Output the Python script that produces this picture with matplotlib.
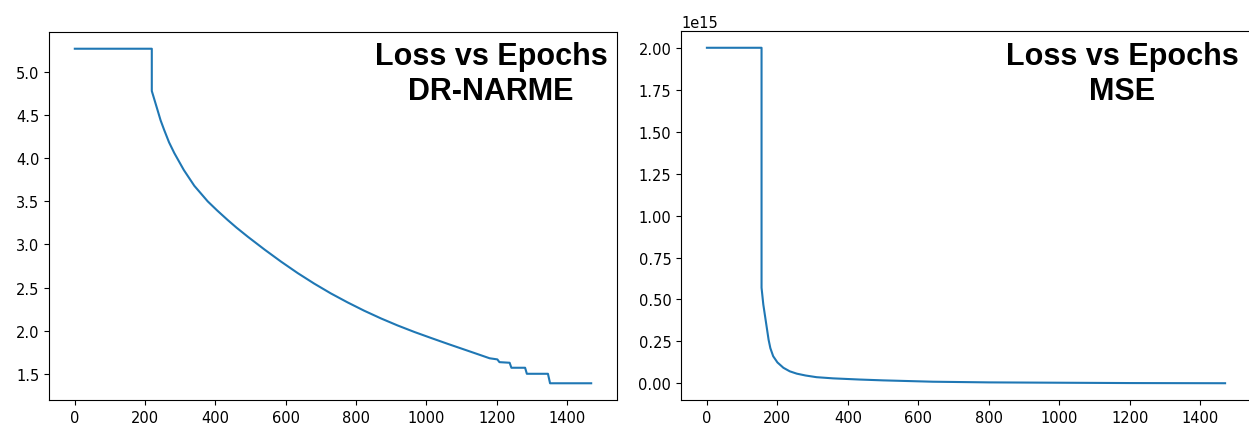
import matplotlib.pyplot as plt

# DR-NARME loss curve
epochs_dr = [0, 219, 219, 235, 244, 254, 268, 283, 310, 340, 378, 405, 435, 460,
             492, 540, 587, 634, 681, 728, 776, 823, 871, 918, 966, 1013, 1061,
             1106, 1151, 1180, 1202, 1208, 1237, 1242, 1281, 1286, 1346, 1352,
             1469]
loss_dr = [5.27, 5.27, 4.78, 4.563, 4.44, 4.33, 4.185, 4.06, 3.864, 3.68, 3.50,
           3.394, 3.283, 3.195, 3.09, 2.94, 2.80, 2.668, 2.546, 2.433, 2.328,
           2.232, 2.142, 2.061, 1.985, 1.916, 1.847, 1.784, 1.721, 1.68, 1.667,
           1.635, 1.628, 1.57, 1.57, 1.50, 1.50, 1.39, 1.39]

# MSE loss curve
epochs_mse = [0, 155, 155, 160, 165, 170, 175, 180, 188, 200, 217, 235, 255, 280,
              311, 358, 433, 500, 641, 800, 1000, 1200, 1470]
loss_mse = [2.0, 2.0, 0.57, 0.47, 0.40, 0.33, 0.26, 0.21, 0.162, 0.125, 0.093,
            0.072, 0.058, 0.047, 0.037, 0.030, 0.023, 0.018, 0.010, 0.006,
            0.004, 0.002, 0.001]
loss_mse = [v * 1e15 for v in loss_mse]

titles = [('Loss vs Epochs', 'DR-NARME'), ('Loss vs Epochs', 'MSE')]

plt.rcParams['font.family'] = 'DejaVu Sans'
plt.rcParams['font.size'] = 10.5

W, H = 1249, 431
fig = plt.figure(figsize=(W / 100, H / 100), dpi=100)

ax1 = fig.add_axes([49 / W, 1 - 401 / H, 568 / W, 368 / H])
ax1.plot(epochs_dr, loss_dr, color='#1f77b4', linewidth=1.5)

ax2 = fig.add_axes([681 / W, 1 - 401 / H, 570 / W, 369 / H])
ax2.plot(epochs_mse, loss_mse, color='#1f77b4', linewidth=1.5)
ax2.set_yticks([0, 0.25e15, 0.5e15, 0.75e15, 1.0e15, 1.25e15, 1.5e15, 1.75e15, 2.0e15])

for cx, (line1, line2) in zip([491, 1122], titles):
    fig.text(cx / W, 1 - 65 / H, line1, ha='center', va='baseline',
             fontsize=22, fontweight='bold', family='Liberation Sans')
    fig.text(cx / W, 1 - 100 / H, line2, ha='center', va='baseline',
             fontsize=22, fontweight='bold', family='Liberation Sans')

fig.savefig('out.png', dpi=100)
